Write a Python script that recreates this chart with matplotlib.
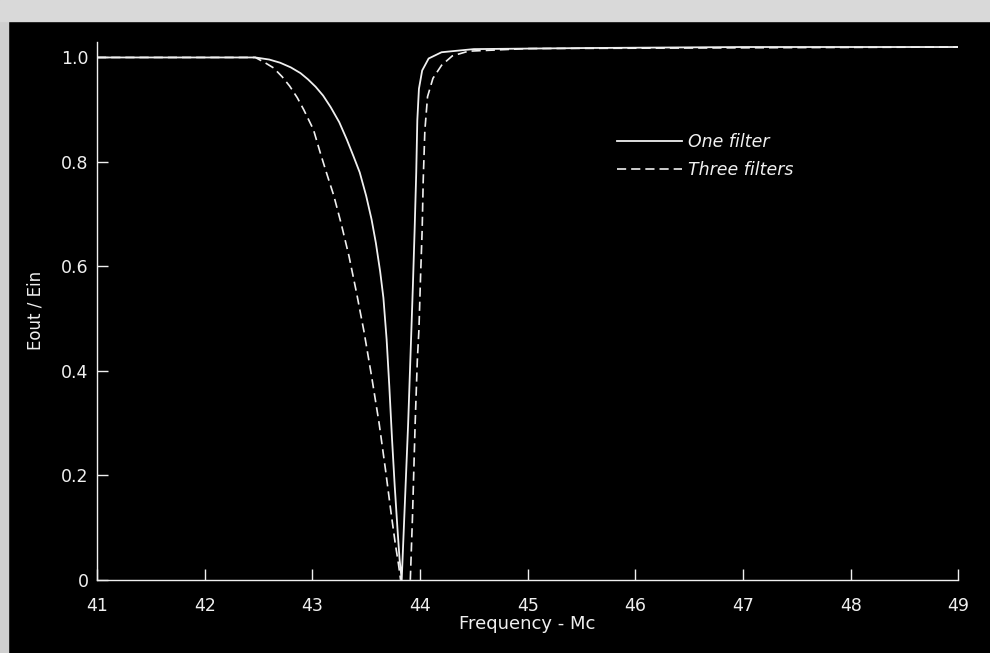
import numpy as np
import matplotlib
matplotlib.use("Agg")
import matplotlib.pyplot as plt
from matplotlib.patches import Rectangle

# one filter response
one_f = [41.0, 42.3, 42.47, 42.6, 42.7, 42.8, 42.89, 42.96, 43.03, 43.1, 43.17, 43.25,
         43.32, 43.38, 43.44, 43.5, 43.55, 43.59, 43.63, 43.66, 43.69, 43.715, 43.74,
         43.765, 43.79, 43.81, 43.83,
         43.85, 43.87, 43.89, 43.905, 43.92, 43.935, 43.95, 43.965, 43.975, 43.99,
         44.02, 44.08, 44.2, 44.5, 45.5, 47.0, 49.0]
one_v = [1.0, 1.0, 1.0, 0.996, 0.99, 0.981, 0.97, 0.958, 0.944, 0.927, 0.905, 0.876,
         0.843, 0.812, 0.78, 0.735, 0.69, 0.645, 0.59, 0.54, 0.46, 0.37, 0.27,
         0.18, 0.10, 0.04, 0.0,
         0.1, 0.2, 0.30, 0.39, 0.479, 0.57, 0.67, 0.78, 0.88, 0.94,
         0.975, 0.998, 1.01, 1.016, 1.018, 1.02, 1.02]

# three filters response, left and right of the notch
three_f = [41.0, 42.3, 42.47, 42.56, 42.64, 42.72, 42.79, 42.86, 42.92, 43.01, 43.07,
           43.13, 43.2, 43.27, 43.34, 43.41, 43.48, 43.55, 43.62, 43.68, 43.73, 43.77,
           43.8, 43.82]
three_v = [1.0, 1.0, 1.0, 0.99, 0.98, 0.963, 0.945, 0.923, 0.9, 0.862, 0.82,
           0.78, 0.735, 0.68, 0.62, 0.55, 0.475, 0.39, 0.30, 0.21, 0.13, 0.07,
           0.03, 0.0]
three_f2 = [43.91, 43.93, 43.955, 43.975, 43.99, 44.005, 44.02, 44.03, 44.045, 44.07,
            44.12, 44.2, 44.3, 44.45, 45.0, 49.0]
three_v2 = [0.0, 0.12, 0.30, 0.42, 0.479, 0.58, 0.67, 0.766, 0.86, 0.925,
            0.96, 0.985, 1.003, 1.012, 1.017, 1.02]

xticks = [41, 42, 43, 44, 45, 46, 47, 48, 49]
yticks = [0, 0.2, 0.4, 0.6, 0.8, 1.0]
ylabels = ["0", "0.2", "0.4", "0.6", "0.8", "1.0"]

fg = "#f0f0f0"
fig = plt.figure(figsize=(9.9, 6.53), dpi=100)
fig.patch.set_facecolor("black")
# light paper edge at left and top of the scan
fig.patches.append(Rectangle((0, 0), 0.008, 1, transform=fig.transFigure, color="#cfcfcf", zorder=0))
fig.patches.append(Rectangle((0, 0.968), 1, 0.032, transform=fig.transFigure, color="#d9d9d9", zorder=0))

ax = fig.add_axes([0.098, 0.112, 0.870, 0.824])
ax.set_facecolor("black")

ax.plot(one_f, one_v, color=fg, lw=1.3, label="One filter")
ax.plot(three_f, three_v, color=fg, lw=1.2, dashes=(5.5, 3), label="Three filters")
ax.plot(three_f2, three_v2, color=fg, lw=1.2, dashes=(5.5, 3))

ax.set_xlim(41, 49)
ax.set_ylim(0, 1.03)
for s in ["top", "right"]:
    ax.spines[s].set_visible(False)
for s in ["left", "bottom"]:
    ax.spines[s].set_color(fg)
    ax.spines[s].set_linewidth(1.0)

ax.set_xticks(xticks)
ax.set_xticklabels([str(t) for t in xticks])
ax.set_yticks(yticks)
ax.set_yticklabels(ylabels)
ax.tick_params(direction="in", length=8, width=1.0, color=fg, labelcolor=fg, labelsize=12.5)
ax.tick_params(axis="x", pad=12)
ax.tick_params(axis="y", pad=6)

ax.set_xlabel("Frequency - Mc", color=fg, fontsize=13, labelpad=0)
ax.set_ylabel("Eout / Ein", color=fg, fontsize=12, labelpad=12)

leg = ax.legend(loc="upper left", bbox_to_anchor=(0.585, 0.86), frameon=False,
                handlelength=3.8, handletextpad=0.3, labelspacing=0.6,
                prop={"style": "italic", "size": 12.5})
for t in leg.get_texts():
    t.set_color(fg)

fig.savefig("out.png", dpi=100, facecolor=fig.get_facecolor())
